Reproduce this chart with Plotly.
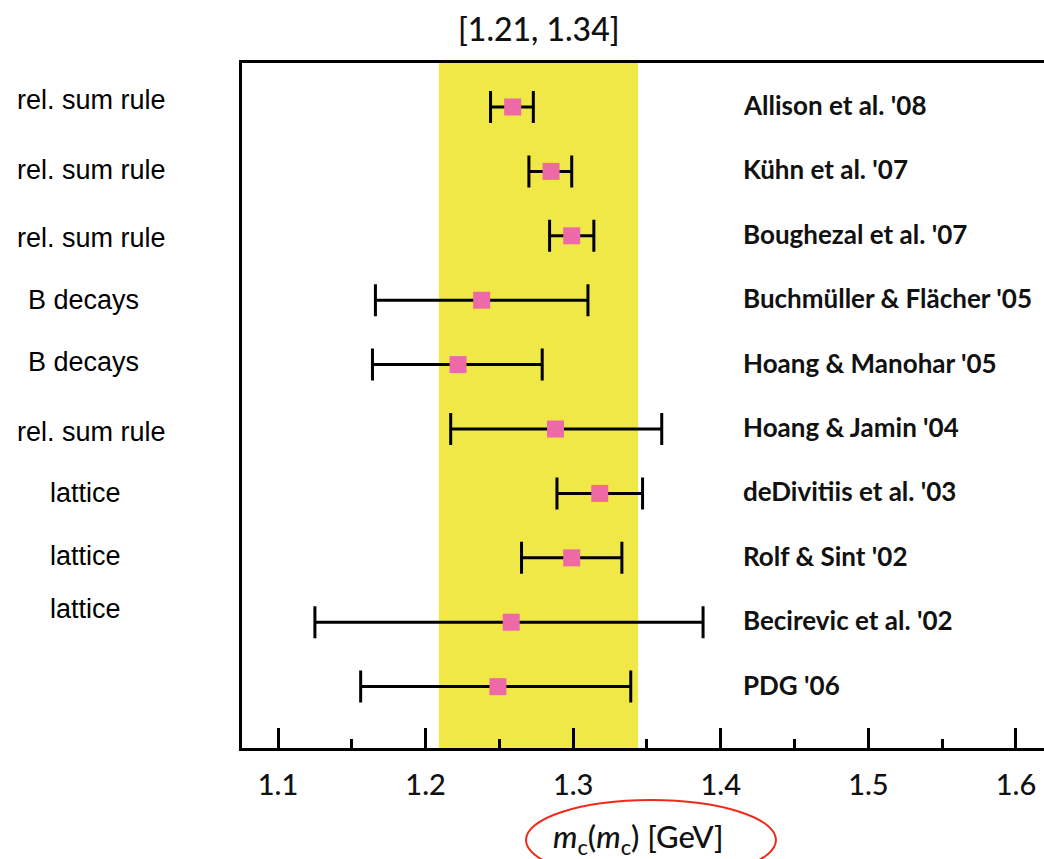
import plotly.graph_objects as go

# Charm quark mass determinations m_c(m_c) in GeV
references = [
    "Allison et al. '08",
    "Kühn et al. '07",
    "Boughezal et al. '07",
    "Buchmüller & Flächer '05",
    "Hoang & Manohar '05",
    "Hoang & Jamin '04",
    "deDivitiis et al. '03",
    "Rolf & Sint '02",
    "Becirevic et al. '02",
    "PDG '06",
]
methods = [
    "rel. sum rule",
    "rel. sum rule",
    "rel. sum rule",
    "B decays",
    "B decays",
    "rel. sum rule",
    "lattice",
    "lattice",
    "lattice",
]
mc_values = [1.259, 1.285, 1.299, 1.238, 1.222, 1.288, 1.318, 1.299, 1.258, 1.249]
err_plus = [0.014, 0.014, 0.015, 0.072, 0.057, 0.072, 0.029, 0.034, 0.130, 0.090]
err_minus = [0.015, 0.015, 0.015, 0.072, 0.058, 0.071, 0.029, 0.034, 0.133, 0.093]

# Average range highlighted as a band
band_low = 1.209
band_high = 1.344

x_tick_values = [1.1, 1.2, 1.3, 1.4, 1.5, 1.6]
x_tick_labels = ["1.1", "1.2", "1.3", "1.4", "1.5", "1.6"]

n = len(references)
rows = [n - i for i in range(n)]

GEO = "Lato"
YELLOW = "#efe846"
PINK = "#ee6aa7"
LEFT_MARGIN = 242

fig = go.Figure()

fig.add_trace(go.Scatter(
    x=mc_values,
    y=rows,
    mode="markers",
    marker=dict(symbol="square", size=17, color=PINK, line=dict(width=0)),
    error_x=dict(
        type="data",
        symmetric=False,
        array=err_plus,
        arrayminus=err_minus,
        color="black",
        thickness=3,
        width=16,
    ),
    showlegend=False,
    hoverinfo="skip",
))

# highlighted band
fig.add_shape(
    type="rect", xref="x", yref="paper",
    x0=band_low, x1=band_high, y0=0, y1=1,
    fillcolor=YELLOW, line=dict(width=0), layer="below",
)

annotations = []

# band range above the frame
annotations.append(dict(
    x=(band_low + band_high) / 2, xref="x",
    y=1, yref="paper", yanchor="bottom", yshift=13,
    text=f"[{band_low:.2f}, {band_high:.2f}]",
    showarrow=False,
    font=dict(family=GEO, size=32, color="#111", weight=500),
))

# reference names to the right of the points
for name, r in zip(references, rows):
    annotations.append(dict(
        x=1.4157, xref="x", xanchor="left", xshift=-3,
        y=r, yref="y", yanchor="middle", yshift=2,
        text=name, showarrow=False,
        font=dict(family=GEO, size=26, color="#111", weight=700),
    ))

# method labels on the left
method_left_px = [17, 17, 17, 28, 28, 17, 50, 50, 50]
method_yshift = [7, 1, -2, 0, 3, -3, 0, 2, 13]
for label, r, lp, ys in zip(methods, rows, method_left_px, method_yshift):
    annotations.append(dict(
        x=0, xref="paper", xanchor="left", xshift=lp - LEFT_MARGIN - 2,
        y=r, yref="y", yanchor="middle", yshift=ys,
        text=label, showarrow=False,
        font=dict(family="Liberation Sans, Arial", size=27, color="black"),
    ))

# axis title
annotations.append(dict(
    x=0.4938, xref="paper", xanchor="center",
    y=-0.1314, yref="paper", yanchor="middle",
    text="<i>m</i><sub>c</sub>(<i>m</i><sub>c</sub>) [GeV]",
    showarrow=False,
    font=dict(family=GEO, size=31, color="#111", weight=500),
))

# red ellipse around the axis title
fig.add_shape(
    type="circle", xref="paper", yref="paper",
    x0=0.3541, x1=0.6658, y0=-0.1927, y1=-0.0759,
    line=dict(color="#ee2a1a", width=2),
    fillcolor="rgba(0,0,0,0)",
)

fig.update_layout(
    width=1044, height=859,
    margin=dict(l=LEFT_MARGIN, r=0, t=63, b=111),
    paper_bgcolor="white",
    plot_bgcolor="white",
    annotations=annotations,
    showlegend=False,
)

fig.update_xaxes(
    range=[1.0756, 1.619],
    tickmode="array",
    tickvals=x_tick_values,
    ticktext=x_tick_labels,
    ticks="inside",
    ticklen=20,
    tickwidth=3,
    tickcolor="black",
    minor=dict(ticks="inside", ticklen=9, tickwidth=3, tickcolor="black",
               dtick=0.05, tick0=1.0),
    showline=True,
    linewidth=3,
    linecolor="black",
    mirror=True,
    showgrid=False,
    zeroline=False,
    tickfont=dict(family=GEO, size=29, color="#111", weight=500),
    ticklabelstandoff=9,
)

fig.update_yaxes(
    range=[0.047, 10.683],
    showticklabels=False,
    ticks="",
    showline=True,
    linewidth=3,
    linecolor="black",
    mirror=False,
    showgrid=False,
    zeroline=False,
)

fig.write_html("out.html")
